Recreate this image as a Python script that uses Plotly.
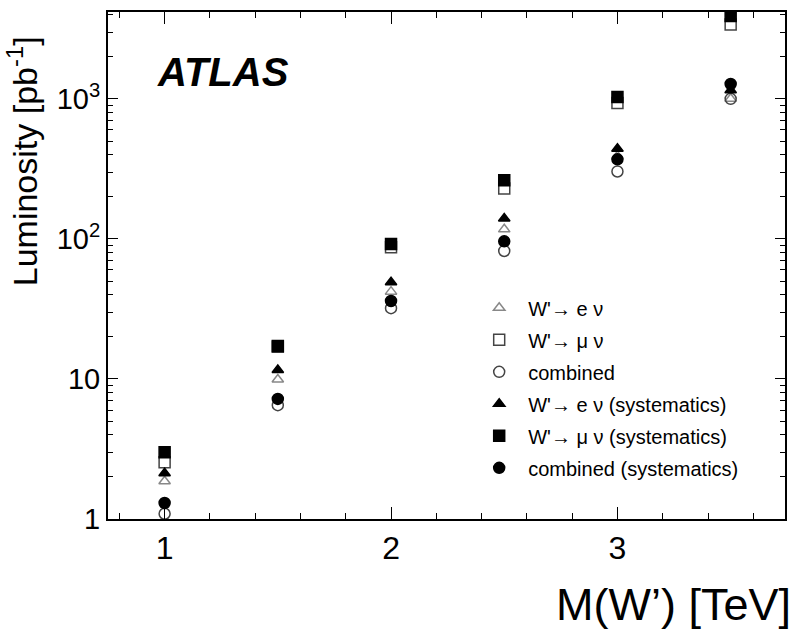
import plotly.graph_objects as go

masses = [1.0, 1.5, 2.0, 2.5, 3.0, 3.5]
ev = [1.86, 9.9, 42, 117, 390, 1000]
muv = [2.54, 17.0, 87, 229, 935, 3400]
comb = [1.09, 6.5, 32, 82, 303, 1000]
ev_sys = [2.12, 11.6, 49, 140, 440, 1150]
muv_sys = [3.0, 17.2, 92, 262, 1030, 3900]
comb_sys = [1.3, 7.2, 36, 96, 370, 1277]

labels = ["W'\u2192 e \u03bd", "W'\u2192 \u03bc \u03bd", "combined",
          "W'\u2192 e \u03bd (systematics)", "W'\u2192 \u03bc \u03bd (systematics)",
          "combined (systematics)"]

y_tickvals = [1, 10, 100, 1000]
y_ticktext = ["1", "10", "10<sup>2</sup>", "10<sup>3</sup>"]
x_tickvals = [1, 2, 3]

fig = go.Figure()
series = [
    (ev, "triangle-up-open", "#888888", 10),
    (muv, "square-open", "#444444", 11),
    (comb, "circle-open", "#444444", 11),
    (ev_sys, "triangle-up", "black", 10),
    (muv_sys, "square", "black", 11),
    (comb_sys, "circle", "black", 11),
]
for i, (vals, sym, col, sz) in enumerate(series):
    fig.add_trace(go.Scatter(
        x=masses, y=vals, mode="markers", name=labels[i],
        legendgroup=f"g{i}",
        marker=dict(symbol=sym, color=col, size=sz, line=dict(color=col, width=1.5)),
    ))

minor_y = []
for dec in [1, 10, 100, 1000]:
    for m in range(2, 10):
        v = dec * m
        if v < 4200:
            minor_y.append(v)

tick_font = "Liberation Sans Narrow, Liberation Sans, Arial, sans-serif"

fig.update_layout(
    width=798, height=637,
    margin=dict(l=108, r=13, t=10, b=118),
    paper_bgcolor="white", plot_bgcolor="white",
    font=dict(family="Liberation Sans, Arial, sans-serif", color="black"),
    showlegend=True,
    legend=dict(x=0.535, y=0.455, xanchor="left", yanchor="top",
                font=dict(size=20), bgcolor="rgba(0,0,0,0)",
                tracegroupgap=3, itemwidth=48),
    xaxis=dict(range=[0.75, 3.74], tickvals=x_tickvals, ticktext=["1", "2", "3"],
               ticks="inside", ticklen=12, tickwidth=1, tickcolor="black",
               showline=True, linecolor="black", linewidth=2, mirror="ticks",
               showgrid=False, zeroline=False,
               tickfont=dict(size=32, family=tick_font),
               minor=dict(dtick=0.2, tick0=0, ticks="inside", ticklen=6, tickcolor="black", showgrid=False)),
    yaxis=dict(type="log", range=[0, 3.62], tickvals=y_tickvals, ticktext=y_ticktext,
               ticks="inside", ticklen=10, tickwidth=1, tickcolor="black",
               showline=True, linecolor="black", linewidth=2, mirror="ticks",
               showgrid=False, zeroline=False,
               tickfont=dict(size=29, family=tick_font),
               minor=dict(tickvals=minor_y, ticks="inside", ticklen=5, tickcolor="black", showgrid=False)),
)

fig.add_annotation(text="<b><i>ATLAS</i></b>", xref="paper", yref="paper",
                   x=0.069, y=0.882, xanchor="left", yanchor="middle", showarrow=False,
                   font=dict(size=40, color="black"))
fig.add_annotation(text="Luminosity [pb<sup>-1</sup>]", xref="paper", yref="paper",
                   x=-0.126, y=0.705, xanchor="center", yanchor="middle", textangle=-90,
                   showarrow=False, font=dict(size=34, color="black"))
fig.add_annotation(text="M(W\u2019) [TeV]", xref="paper", yref="paper",
                   x=1.012, y=-0.169, xanchor="right", yanchor="middle",
                   showarrow=False, font=dict(size=45, color="black"))

fig.write_html("out.html", config={"displayModeBar": False},
               post_script="document.body.style.margin='0px';")
